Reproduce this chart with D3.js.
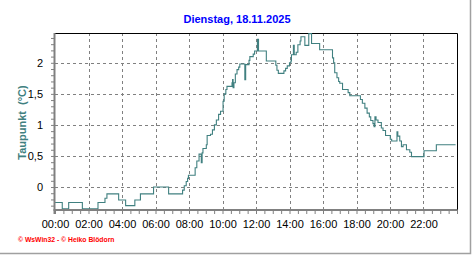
<!DOCTYPE html>
<html>
<head>
<meta charset="utf-8">
<script src="https://cdn.jsdelivr.net/npm/d3@7"></script>
<style>
	body { margin: 0; background: #fff; }
	svg { display: block; }
</style>
</head>
<body>
<div id="chart"></div>
<script>
var title = "Dienstag, 18.11.2025";
var yLabel = "Taupunkt  (°C)";
var footer = "© WsWin32 - © Heiko Blödorn";

// measured times (HH:MM) where the dew point changes, and the new value
var times = [
	"00:00", "00:26", "00:49", "01:38", "02:34", "02:59", "03:06", "03:48", "04:13", "04:46",
	"05:06", "05:53", "06:47", "07:37", "07:43", "07:50", "07:55", "07:58", "08:22", "08:28",
	"08:36", "08:44", "08:47", "08:50", "09:02", "09:05", "09:17", "09:24", "09:31", "09:38",
	"09:46", "09:53", "10:02", "10:06", "10:12", "10:16", "10:34", "10:36", "10:38", "10:41",
	"10:46", "10:52", "10:58", "11:02", "11:20", "11:23", "11:35", "11:38", "11:50", "11:55",
	"12:05", "12:09", "12:37", "13:11", "13:15", "13:20", "13:40", "13:46", "13:52", "14:00",
	"14:05", "14:07", "14:14", "14:17", "14:24", "14:30", "14:38", "14:41", "14:55", "15:09",
	"15:19", "15:48", "16:34", "16:38", "16:42", "16:50", "16:56", "17:00", "17:10", "17:30",
	"17:36", "18:14", "18:21", "18:30", "18:38", "18:46", "18:51", "18:59", "19:03", "19:06",
	"19:10", "19:17", "19:29", "19:35", "19:44", "20:01", "20:06", "20:25", "20:28", "20:35",
	"20:41", "20:47", "20:59", "21:11", "21:17", "22:02", "22:46", "23:55"
];
var dewPoint = [
	-0.25, -0.35, -0.25, -0.35, -0.25, -0.18, -0.11, -0.21, -0.30, -0.21,
	-0.11, 0.00, -0.11, -0.05, 0.02, 0.09, 0.14, 0.19, 0.31, 0.42,
	0.53, 0.39, 0.55, 0.62, 0.68, 0.83, 0.85, 0.92, 1.00, 1.08,
	1.17, 1.22, 1.38, 1.50, 1.57, 1.62, 1.68, 1.73, 1.60, 1.68,
	1.82, 1.89, 1.93, 1.98, 1.73, 1.97, 2.04, 2.10, 2.14, 2.19,
	2.38, 2.19, 2.03, 1.96, 1.88, 1.83, 1.87, 1.91, 1.95, 2.00,
	2.03, 2.13, 2.28, 2.13, 2.17, 2.29, 2.35, 2.42, 2.28, 2.47,
	2.31, 2.21, 2.08, 2.00, 1.84, 1.76, 1.70, 1.67, 1.57, 1.52,
	1.47, 1.41, 1.35, 1.27, 1.19, 1.13, 1.07, 1.02, 0.97, 1.13,
	1.08, 1.04, 0.95, 0.91, 0.83, 0.77, 0.74, 0.89, 0.82, 0.74,
	0.65, 0.68, 0.60, 0.56, 0.49, 0.585, 0.68, 0.68
];
var yTickValues = [0, 0.5, 1, 1.5, 2];

(function() {
	var width = 472,
		height = 255;

	var svg = d3.select("#chart")
		.append("svg")
		.attr("width", width)
		.attr("height", height)
		.style("font-family", "'Liberation Sans', Arial, sans-serif");

	var parseTime = d3.timeParse("%Y-%m-%d %H:%M");
	var day0 = parseTime("2025-11-18 00:00"),
		day1 = parseTime("2025-11-19 00:00");

	var data = times.map(function(t, i) {
		return { time: parseTime("2025-11-18 " + t), value: dewPoint[i] };
	});

	var x = d3.scaleTime().domain([day0, day1]).range([55, 457]);
	var y = d3.scaleLinear().domain([-0.37, 2.48]).range([210, 33]);

	// outer frame (right + bottom only)
	svg.append("path")
		.attr("d", "M470.5,0V253.5H0")
		.attr("fill", "none")
		.attr("stroke", "#a0a0a0")
		.attr("stroke-width", 1.5);

	// title
	svg.append("text")
		.attr("x", 237)
		.attr("y", 23)
		.attr("text-anchor", "middle")
		.attr("fill", "#0000ff")
		.style("font-size", "11px")
		.style("font-weight", "bold")
		.text(title);

	// grid
	var grid = svg.append("g")
		.attr("stroke", "#808080")
		.attr("stroke-dasharray", "3,3")
		.attr("shape-rendering", "crispEdges");

	grid.selectAll(".hgrid")
		.data(yTickValues)
		.enter().append("line")
		.attr("class", "hgrid")
		.attr("x1", x.range()[0])
		.attr("x2", x.range()[1])
		.attr("y1", function(d) { return Math.round(y(d)) + 0.5; })
		.attr("y2", function(d) { return Math.round(y(d)) + 0.5; });

	grid.selectAll(".vgrid")
		.data(d3.timeHour.every(2).range(d3.timeHour.offset(day0, 2), day1))
		.enter().append("line")
		.attr("class", "vgrid")
		.attr("x1", function(d) { return Math.round(x(d)) + 0.5; })
		.attr("x2", function(d) { return Math.round(x(d)) + 0.5; })
		.attr("y1", y.range()[1])
		.attr("y2", y.range()[0]);

	// top and right border
	svg.append("path")
		.attr("d", "M54," + 33.5 + "H" + 457.5 + "V210")
		.attr("fill", "none")
		.attr("stroke", "#000")
		.attr("stroke-width", 1);

	// dew point line
	var line = d3.line()
		.curve(d3.curveStepAfter)
		.x(function(d) { return x(d.time); })
		.y(function(d) { return y(d.value); });

	svg.append("path")
		.datum(data)
		.attr("d", line)
		.attr("fill", "none")
		.attr("stroke", "#408080")
		.attr("stroke-width", 1.1);

	// x axis: minor ticks every 30 min
	var xMinor = svg.append("g")
		.attr("transform", "translate(0,210)")
		.call(d3.axisBottom(x)
			.ticks(d3.timeMinute.every(30))
			.tickSize(4)
			.tickFormat(""));

	xMinor.select(".domain").remove();
	xMinor.selectAll("line").attr("stroke", "#808080");

	var xLabels = svg.append("g")
		.attr("transform", "translate(0,210)")
		.call(d3.axisBottom(x)
			.tickValues(d3.timeHour.every(2).range(day0, day1))
			.tickSize(0)
			.tickPadding(10)
			.tickFormat(d3.timeFormat("%H:%M")));

	xLabels.select(".domain").remove();
	xLabels.selectAll("text")
		.style("font-size", "11px")
		.style("font-family", "'Liberation Sans', Arial, sans-serif")
		.attr("fill", "#000");

	// y axis: minor ticks every 0.1
	var yMinor = svg.append("g")
		.attr("transform", "translate(54,0)")
		.call(d3.axisLeft(y)
			.tickValues(d3.range(-3, 25).map(function(i) { return i / 10; }))
			.tickSize(3)
			.tickFormat(""));

	yMinor.select(".domain").remove();
	yMinor.selectAll("line").attr("stroke", "#808080");

	var yLabels = svg.append("g")
		.attr("transform", "translate(54,0)")
		.call(d3.axisLeft(y)
			.tickValues(yTickValues)
			.tickSize(0)
			.tickPadding(11)
			.tickFormat(function(d) { return String(d).replace(".", ","); }));

	yLabels.select(".domain").remove();
	yLabels.selectAll("text")
		.style("font-size", "11px")
		.style("font-family", "'Liberation Sans', Arial, sans-serif")
		.attr("fill", "#000");

	// thick gray axis lines
	svg.append("line")
		.attr("x1", 54.5).attr("x2", 54.5)
		.attr("y1", 33).attr("y2", 214)
		.attr("stroke", "#808080")
		.attr("stroke-width", 2);

	svg.append("line")
		.attr("x1", 53.5).attr("x2", 457.5)
		.attr("y1", 210).attr("y2", 210)
		.attr("stroke", "#808080")
		.attr("stroke-width", 2);

	// y axis title
	svg.append("text")
		.attr("transform", "translate(26,122.5) rotate(-90)")
		.attr("text-anchor", "middle")
		.attr("fill", "#408080")
		.style("font-size", "11px")
		.style("font-weight", "bold")
		.style("white-space", "pre")
		.text(yLabel);

	// footer
	svg.append("text")
		.attr("x", 18)
		.attr("y", 241.5)
		.attr("fill", "#ff0000")
		.style("font-size", "6.8px")
		.style("font-weight", "bold")
		.text(footer);
})();
</script>
</body>
</html>
